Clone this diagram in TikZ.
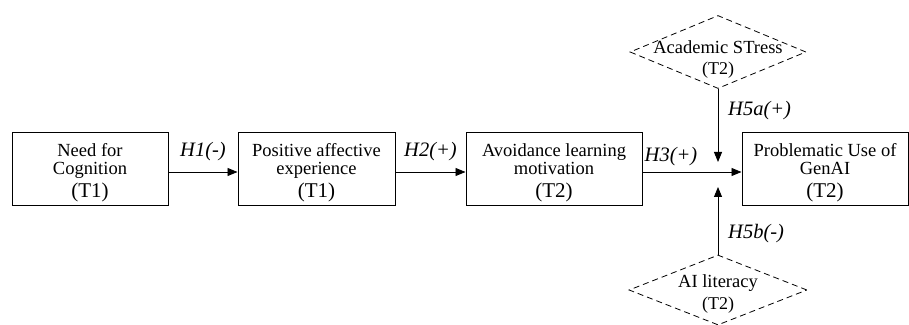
\documentclass[tikz,border=0pt]{standalone}
\usepackage{fontspec}
\setmainfont{Liberation Serif}
\usetikzlibrary{shapes.geometric, arrows.meta, calc, positioning}
\setlength{\lineskiplimit}{-100pt}
\tikzset{
  var/.style={draw, line width=1pt, minimum width=#1, minimum height=73pt, inner sep=0pt},
  moddia/.style={diamond, draw, line width=0.8pt, dash pattern=on 6pt off 4pt, inner sep=0pt},
  txt/.style={align=center, inner sep=0pt, font=\fontsize{18.5}{17.5}\selectfont},
  hyp/.style={inner sep=0pt, font=\fontsize{20.5}{20.5}\selectfont\itshape},
  arr/.style={->, line width=0.9pt}
}
\newcommand{\tlbl}[1]{{\fontsize{21}{21}\selectfont #1}}
\newcommand{\dlbl}[1]{{\fontsize{18}{18}\selectfont #1}}

\begin{document}
\begin{tikzpicture}[>={Triangle[length=10pt,width=8pt]}, x=1pt, y=1pt]
\useasboundingbox (0,0) rectangle (909,324);

% Boxes
\node[var=156pt] (nfc) at (90,154.5) {};
\node[var=157pt] (pae) at (316.5,154.5) {};
\node[var=176pt] (alm) at (554,154.5) {};
\node[var=166pt] (pug) at (825,154.5) {};

\node[txt, yshift=-3.5pt] (nfc-t) at (nfc) {Need for\\Cognition\\[6pt]\tlbl{(T1)}};
\node[txt, yshift=-3.5pt] (pae-t) at (pae) {Positive affective\\experience\\[6pt]\tlbl{(T1)}};
\node[txt, yshift=-3.5pt] (alm-t) at (alm) {Avoidance learning\\motivation\\[6pt]\tlbl{(T2)}};
\node[txt, yshift=-3.5pt] (pug-t) at (pug) {Problematic Use of\\GenAI\\[6pt]\tlbl{(T2)}};

% Moderators
\node[moddia, minimum width=176pt, minimum height=73pt] (stress) at (718,272) {};
\node[moddia, minimum width=178pt, minimum height=70pt] (lit) at (718,34) {};
\node[txt, yshift=-8pt] (stress-t) at (stress) {Academic STress\\[3.5pt]\dlbl{(T2)}};
\node[txt, yshift=-4pt] (lit-t) at (lit) {AI literacy\\[4pt]\dlbl{(T2)}};

% Paths
\coordinate (jn) at (718,152);
\draw[arr] (nfc.east |- jn) -- (pae.west |- jn)
  node[hyp, midway, anchor=base, yshift=15pt] (h1) {H1(-)};
\draw[arr] (pae.east |- jn) -- (alm.west |- jn)
  node[hyp, midway, anchor=base, yshift=15pt] (h2) {H2(+)};
\draw[arr] (alm.east |- jn) -- (pug.west |- jn);
\node[hyp, anchor=base west] (h3) at ($(alm.east |- jn)+(2,10)$) {H3(+)};

\draw[arr] (stress.south) -- ($(jn)+(0,10)$);
\draw[arr] (lit.north) -- ($(jn)+(0,-15)$);
\node[hyp, anchor=base west] (h5a) at ($(stress.south)+(10,-27)$) {H5a(+)};
\node[hyp, anchor=base west] (h5b) at ($(lit.north)+(10,16)$) {H5b(-)};
\end{tikzpicture}
\end{document}
